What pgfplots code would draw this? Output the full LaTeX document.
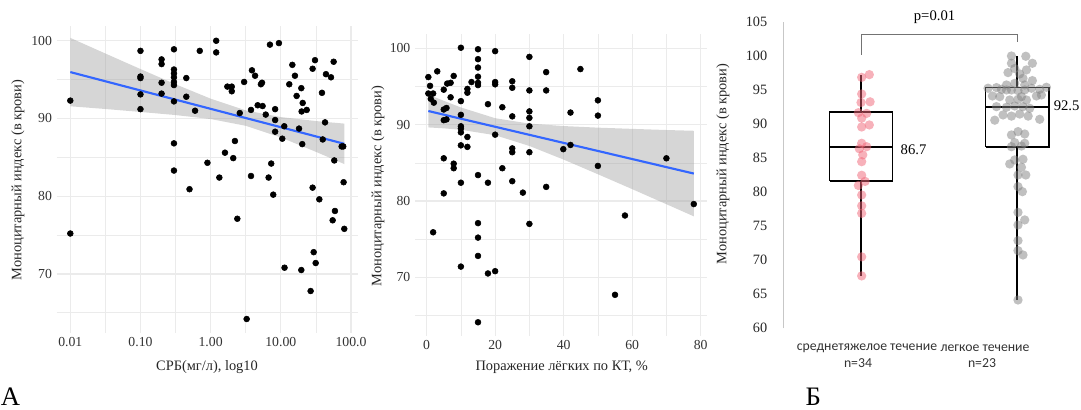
\documentclass[border=0pt]{standalone}
\usepackage{fontspec}
\setmainfont{Liberation Serif}
\newfontfamily\calibri{Carlito}
\usepackage{pgfplots}
\pgfplotsset{compat=1.18}
\definecolor{gridc}{RGB}{235,235,235}
\definecolor{lmblue}{RGB}{51,102,255}
\definecolor{bandc}{RGB}{153,153,153}
\definecolor{pinkc}{RGB}{240,100,118}
\definecolor{greyc}{RGB}{130,130,130}
\pgfplotsset{
  ggmin/.style={
    scale only axis, anchor=south west,
    axis line style={draw=none}, tick style={draw=none},
    grid=both,
    major grid style={draw=gridc, line width=0.9pt},
    minor grid style={draw=gridc, line width=0.45pt},
    tick label style={font=\fontsize{10.3}{12}\selectfont, text=black!80},
    /pgf/number format/assume math mode=true,
    ymin=62.4, ymax=101.9,
    ytick={70,80,90,100}, minor ytick={65,75,85,95},
  },
  boxline/.style={black, line width=1.4pt, no marks},
}
\begin{document}
\begin{tikzpicture}
\useasboundingbox (0,0) rectangle (810.75pt,307.5pt);
% ---------- Panel A ----------
\begin{axis}[ggmin, at={(42.45pt,57.75pt)}, width=226.05pt, height=230.25pt,
  xmode=log, xmin=0.00638, xmax=125.9,
  xtick={0.01,0.1,1,10,100}, xticklabels={0.01,0.10,1.00,10.00,100.0},
  minor xtick={0.0316228,0.316228,3.16228,31.6228}]
\addplot[only marks, mark=*, mark size=2.2pt, black] coordinates {
(0.01,92.3) (0.01,75.2) (0.1,98.7) (0.1,95.4) (0.1,95.2) (0.1,93.1) (0.1,91.2)
(0.2,97.6) (0.2,97.0) (0.2,94.6) (0.2,93.2) (0.3,98.9) (0.3,96.3) (0.3,95.8)
(0.3,95.3) (0.3,94.7) (0.3,94.3) (0.3,92.2) (0.3,86.8) (0.3,83.3) (0.45,95.2)
(0.45,92.8) (0.5,80.9) (0.6,91.0) (0.7,98.7) (0.9,84.3) (1.2,100.0) (1.2,98.5)
(1.33,82.4) (1.6,85.6) (1.73,94.1) (2.0,94.1) (2.0,93.5) (2.1,84.9) (2.22,87.1)
(2.4,77.1) (2.6,90.7) (3.0,94.7) (3.26,64.2) (3.76,82.6) (3.76,91.1) (3.88,96.2)
(4.3,95.5) (4.68,91.7) (5.2,94.4) (5.4,94.6) (5.5,91.6) (6.1,90.5) (6.7,82.4)
(7.0,99.5) (7.3,84.2) (7.8,80.2) (8.3,91.2) (8.3,89.8) (8.3,88.3) (9.4,99.7)
(10.5,87.4) (11.2,89.0) (11.3,70.8) (13.2,94.4) (14.6,96.9) (15.9,95.5) (16.8,92.9)
(18.2,88.7) (19.6,93.9) (20.2,86.7) (19.6,70.5) (20.5,92.0) (19.8,90.9) (23.4,91.1)
(26.6,67.8) (28.4,96.4) (28.4,81.1) (29.4,72.8) (30.7,97.5) (31.4,71.4) (35.4,79.6)
(38.6,93.3) (39.6,87.3) (42.7,89.5) (44,95.7) (51.9,95.3) (54.8,76.9) (56.6,97.3)
(57.8,84.6) (59.1,78.1) (73.6,86.4) (77.6,86.4) (78.5,81.8) (80.3,75.8)};
\addplot[draw=none, fill=bandc, fill opacity=0.4] coordinates {
(0.01,100.37) (0.0316,98.36) (0.1,96.36) (0.316,94.40) (1,92.55) (3.16,91.04)
(10,90.18) (31.6,89.67) (80.3,89.34)
(80.3,84.14) (31.6,85.71) (10,87.56) (3.16,89.06) (1,89.93) (0.316,90.44)
(0.1,90.84) (0.0316,91.22) (0.01,91.57)} -- cycle;
\addplot[draw=lmblue, line width=1.6pt] coordinates {(0.01,95.97) (80.3,86.74)};
\end{axis}
% ---------- Panel B ----------
\begin{axis}[ggmin, at={(311.3pt,55.5pt)}, width=219pt, height=226.5pt,
  xmin=-3.375, xmax=81.875, ymin=62.3,
  xtick={0,20,40,60,80}, minor xtick={10,30,50,70}]
\addplot[only marks, mark=*, mark size=2.2pt, black] coordinates {
(0.5,96.25) (1.0,95.1) (0.5,94.1) (1.2,93.4) (1.9,94.1) (2.1,92.9) (3.1,97.0)
(5.0,94.6) (6.0,95.4) (7.0,95.5) (7.9,96.4) (7.0,93.6) (5.0,92.0) (5.8,92.2)
(5.0,90.6) (5.8,90.7) (5.0,85.6) (7.9,84.9) (7.9,84.3) (5.0,81.0) (1.9,75.9)
(10,100.1) (10,93.1) (10,91.3) (10,89.8) (10,89.5) (10,89.0) (10,87.3) (10,82.4)
(10,71.4) (11.9,94.7) (11.9,94.2) (13.1,95.6) (11.9,88.4) (11.9,87.1) (15,99.9)
(15,98.6) (15,97.5) (15,96.3) (15,95.5) (15,95.2) (15,83.4) (15,77.1) (15,75.2)
(15,72.8) (15,64.1) (17.9,92.7) (17.9,82.4) (17.9,70.5) (20,99.65) (20,95.6)
(20,95.3) (20,88.7) (20,70.8) (22.1,92.3) (22.1,84.3) (25,95.7) (25,94.85)
(25,91.1) (25,86.9) (25,86.4) (25,82.6) (28.1,81.1) (30,98.9) (30,94.5)
(30,91.75) (30,90.9) (30,89.8) (30,86.4) (30,77.0) (34.9,96.9) (34.9,94.5)
(34.9,81.85) (39.9,86.8) (42,87.35) (42,91.6) (44.9,97.3) (50,93.2) (50,91.2)
(50,84.6) (55,67.7) (57.9,78.1) (70,85.6) (78,79.6)};
\addplot[draw=none, fill=bandc, fill opacity=0.4] coordinates {
(0.5,93.95) (5,93.14) (10,92.27) (20,90.86) (30,90.15) (40,89.83) (50,89.62)
(60,89.46) (70,89.31) (78,89.21)
(78,77.99) (70,79.58) (60,81.56) (50,83.51) (40,85.43) (30,87.22) (20,88.63)
(10,89.34) (5,89.53) (0.5,89.65)} -- cycle;
\addplot[draw=lmblue, line width=1.6pt] coordinates {(0.5,91.8) (78,83.6)};
\end{axis}
% ---------- Panel Б ----------
\begin{axis}[scale only axis, anchor=south west, at={(587.5pt,61.3pt)},
  width=222.1pt, height=229.5pt,
  xmin=0.502, xmax=2.4, ymin=60, ymax=105,
  ytick={60,65,...,105}, xtick=\empty,
  axis lines=left, axis line style={-},
  x axis line style={draw=none},
  y axis line style={draw=black!22, line width=0.7pt},
  tick style={draw=none},
  tick label style={font=\fontsize{10.7}{12}\selectfont, text=black!85},
  yticklabel style={xshift=-6.4pt},
  /pgf/number format/assume math mode=true,
  clip=false]
\addplot[only marks, mark=*, mark size=3.5pt, mark options={draw opacity=0, fill=pinkc, fill opacity=0.5}] coordinates {
(1.004,96.9) (1.053,97.3) (1.004,94.45) (1.058,93.3) (1.000,93.2) (0.983,91.7)
(1.036,91.6) (1.004,90.9) (1.004,89.6) (1.053,89.9) (1.004,87.2) (1.036,86.7)
(0.989,86.4) (1.011,85.5) (1.004,84.5) (1.004,82.5) (1.026,81.6) (0.983,81.0)
(1.004,79.6) (1.004,78.0) (1.004,76.9) (1.004,70.5) (1.004,67.7)};
\addplot[only marks, mark=*, mark size=3.5pt, mark options={draw opacity=0, fill=greyc, fill opacity=0.5}] coordinates {
(1.964,100.04) (2.056,100.0) (1.964,98.97) (2.098,98.97) (1.985,98.2) (2.060,97.99)
(1.942,97.6) (2.017,97.4) (2.038,96.76) (2.098,96.42) (1.932,95.78) (1.985,96.02)
(2.049,95.78) (1.814,95.3) (1.868,95.39) (1.900,95.14) (1.932,95.05) (1.964,95.05)
(2.006,94.95) (2.049,95.05) (2.092,95.3) (2.145,95.14) (2.188,95.44) (1.842,94.16)
(1.889,94.06) (2.028,94.06) (2.124,94.16) (2.156,94.31) (1.953,93.57) (2.006,93.67)
(2.060,93.57) (1.868,92.59) (1.932,92.5) (1.985,92.69) (2.038,92.59) (2.081,92.35)
(1.857,90.6) (1.910,91.37) (1.964,91.2) (2.017,91.5) (2.071,91.2) (2.145,90.73)
(2.006,88.92) (2.049,88.57) (1.964,88.43) (1.985,87.3) (2.049,87.2) (1.964,86.7)
(2.028,86.8) (2.038,84.85) (1.985,84.75) (1.953,84.16) (2.028,83.67) (2.006,82.54)
(2.056,82.54) (2.006,80.83) (2.034,80.09) (2.006,77.05) (2.049,75.93) (2.006,75.19)
(2.006,72.89) (2.006,71.42) (2.038,70.78) (2.006,64.16)};
% box 1
\addplot[boxline] coordinates {(0.798,81.6) (1.202,81.6) (1.202,91.8) (0.798,91.8) (0.798,81.6)};
\addplot[boxline] coordinates {(0.798,86.7) (1.202,86.7)};
\addplot[boxline] coordinates {(1,91.8) (1,97.3)};
\addplot[boxline] coordinates {(1,81.6) (1,67.7)};
% box 2
\addplot[boxline] coordinates {(1.798,86.6) (2.202,86.6) (2.202,95.4) (1.798,95.4) (1.798,86.6)};
\addplot[boxline] coordinates {(1.798,92.6) (2.202,92.6)};
\addplot[boxline] coordinates {(2,95.4) (2,100)};
\addplot[boxline] coordinates {(2,86.6) (2,64.2)};
% bracket
\addplot[black!55, line width=0.75pt, no marks] coordinates {(1,100.2) (1,103.2) (2,103.2) (2,102.1)};
\node[font=\fontsize{11}{12}\selectfont] at (axis cs:1.471,105.7) {p=0.01};
\node[font=\fontsize{11}{12}\selectfont, anchor=west] at (axis cs:1.224,86.2) {86.7};
\node[font=\fontsize{11}{12}\selectfont, anchor=west] at (axis cs:2.205,92.7) {92.5};
\end{axis}
% ---------- labels ----------
\node[rotate=90, font=\fontsize{10.8}{12}\selectfont, text=black!85] at (13.5pt,172.5pt) {Моноцитарный индекс (в крови)};
\node[rotate=90, font=\fontsize{10.8}{12}\selectfont, text=black!85] at (283.5pt,168pt) {Моноцитарный индекс (в крови)};
\node[rotate=90, font=\fontsize{10.8}{12}\selectfont, text=black!85] at (542.25pt,184.5pt) {Моноцитарный индекс (в крови)};
\node[font=\fontsize{10.8}{12}\selectfont, text=black!85] at (155.25pt,32.25pt) {СРБ(мг/л), log10};
\node[font=\fontsize{10.8}{12}\selectfont, text=black!85] at (421.3pt,32.25pt) {Поражение лёгких по КТ, \%};
\node[font=\calibri\fontsize{10.3}{12}\selectfont, text=black!80] at (650.25pt,46.5pt) {среднетяжелое течение};
\node[font=\calibri\fontsize{10.3}{12}\selectfont, text=black!80] at (643.5pt,35.25pt) {n=34};
\node[font=\calibri\fontsize{10.3}{12}\selectfont, text=black!80] at (738.75pt,46.5pt) {легкое течение};
\node[font=\calibri\fontsize{10.3}{12}\selectfont, text=black!80] at (736.5pt,35.25pt) {n=23};
\node[font=\fontsize{20}{22}\selectfont, anchor=base west, inner sep=0pt] at (0.5pt,3pt) {А};
\node[font=\fontsize{20}{22}\selectfont, anchor=base, inner sep=0pt] at (610pt,3pt) {Б};
\end{tikzpicture}
\end{document}
